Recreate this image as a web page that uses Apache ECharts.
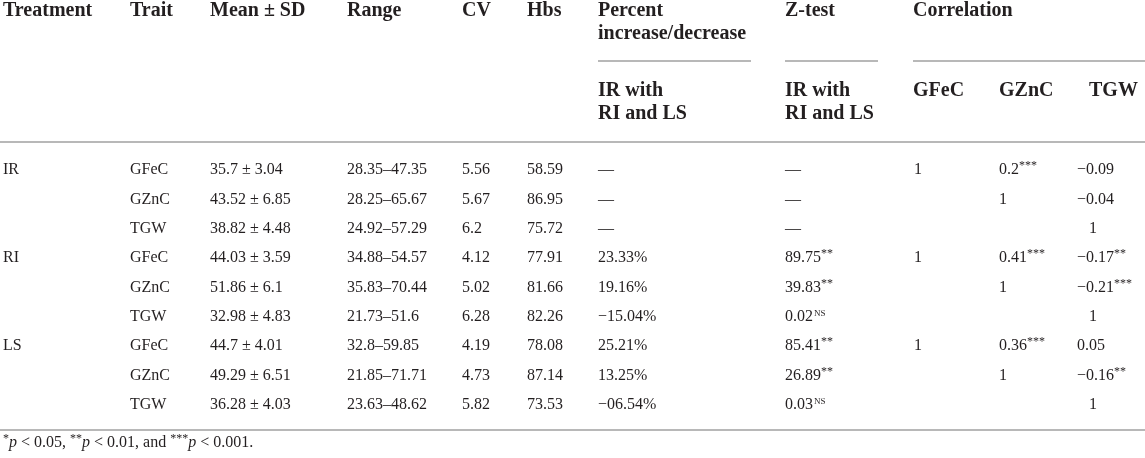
<!DOCTYPE html>
<html>
<head>
<meta charset="utf-8">
<script src="https://cdn.jsdelivr.net/npm/echarts@6/dist/echarts.min.js"></script>
<style>
html, body {margin: 0; padding: 0; background: #fff;}
#main {width: 1145px; height: 458px;}
</style>
</head>
<body>
<div id="main"></div>
<script>
/************************ table data ************************/
var treatments = ['IR', 'RI', 'LS'];
var traits = ['GFeC', 'GZnC', 'TGW'];
var meanSD = ['35.7 ± 3.04', '43.52 ± 6.85', '38.82 ± 4.48', '44.03 ± 3.59', '51.86 ± 6.1', '32.98 ± 4.83', '44.7 ± 4.01', '49.29 ± 6.51', '36.28 ± 4.03'];
var ranges = ['28.35–47.35', '28.25–65.67', '24.92–57.29', '34.88–54.57', '35.83–70.44', '21.73–51.6', '32.8–59.85', '21.85–71.71', '23.63–48.62'];
var cv = ['5.56', '5.67', '6.2', '4.12', '5.02', '6.28', '4.19', '4.73', '5.82'];
var hbs = ['58.59', '86.95', '75.72', '77.91', '81.66', '82.26', '78.08', '87.14', '73.53'];
var pctChange = ['—', '—', '—', '23.33%', '19.16%', '−15.04%', '25.21%', '13.25%', '−06.54%'];
var zValue = ['—', '—', '—', '89.75', '39.83', '0.02', '85.41', '26.89', '0.03'];
var zSig = ['', '', '', '**', '**', 'NS', '**', '**', 'NS'];
var corrFe = ['1', '', '', '1', '', '', '1', '', ''];
var corrZn = ['0.2', '1', '', '0.41', '1', '', '0.36', '1', ''];
var corrZnSig = ['***', '', '', '***', '', '', '***', '', ''];
var corrTgw = ['−0.09', '−0.04', '1', '−0.17', '−0.21', '1', '0.05', '−0.16', '1'];
var corrTgwSig = ['', '', '', '**', '***', '', '', '**', ''];

var headMain = ['Treatment', 'Trait', 'Mean ± SD', 'Range', 'CV', 'Hbs'];
var headSpan = ['Percent\nincrease/decrease', 'Z-test', 'Correlation'];
var headSub = ['IR with\nRI and LS', 'IR with\nRI and LS', 'GFeC', 'GZnC', 'TGW'];
var footnote = '{s|*}{i|p}{t| < 0.05, }{s|**}{i|p}{t| < 0.01, and }{s|***}{i|p}{t| < 0.001.}';

/************************ layout ************************/
var W = 1145, H = 458;
var FONT = '"Liberation Serif", "Times New Roman", serif';
var INK = '#231f20';
var RULE = '#b8b8b8';
var colMain = [3, 130, 210, 347, 462, 527];
var colSpan = [598, 785, 913];
var colSub = [598, 785, 913, 999, 1089];
var colData = [598, 785, 914, 999, 1077];
var row0 = 170, rowStep = 29.375;
var headLine = 23;

var rich = {
    v: {fontFamily: FONT, fontSize: 16, fill: INK, lineHeight: 20},
    s: {fontFamily: FONT, fontSize: 12, fill: INK, lineHeight: 20, verticalAlign: 'top'},
    n: {fontFamily: FONT, fontSize: 9, fill: INK, lineHeight: 20, verticalAlign: 'top', padding: [2, 0, 0, 1]}
};
var footRich = {
    t: {fontFamily: FONT, fontSize: 16, fill: INK, lineHeight: 20},
    i: {fontFamily: FONT, fontSize: 16, fontStyle: 'italic', fill: INK, lineHeight: 20},
    s: {fontFamily: FONT, fontSize: 12, fill: INK, lineHeight: 20, verticalAlign: 'top'}
};

function valText(v, sig) {
    if (!v) return '';
    var t = '{v|' + v + '}';
    if (sig === 'NS') t += '{n|NS}';
    else if (sig) t += '{s|' + sig + '}';
    return t;
}

// centre y of a header block whose first line sits at y0
function headY(y0, txt) {
    var lines = txt.split('\n').length;
    return y0 + (lines - 1) * headLine / 2;
}

// cells: [x, y, text, kind]
var cells = [];
headMain.forEach(function (h, i) { cells.push([colMain[i], headY(11, h), h, 'head']); });
headSpan.forEach(function (h, i) { cells.push([colSpan[i], headY(11, h), h, 'head']); });
headSub.forEach(function (h, i) { cells.push([colSub[i], headY(91, h), h, 'head']); });

for (var r = 0; r < 9; r++) {
    var y = row0 + rowStep * r;
    if (r % 3 === 0) cells.push([colMain[0], y, '{v|' + treatments[r / 3] + '}', 'rich']);
    cells.push([colMain[1], y, '{v|' + traits[r % 3] + '}', 'rich']);
    cells.push([colMain[2], y, '{v|' + meanSD[r] + '}', 'rich']);
    cells.push([colMain[3], y, '{v|' + ranges[r] + '}', 'rich']);
    cells.push([colMain[4], y, '{v|' + cv[r] + '}', 'rich']);
    cells.push([colMain[5], y, '{v|' + hbs[r] + '}', 'rich']);
    cells.push([colData[0], y, valText(pctChange[r], ''), 'rich']);
    cells.push([colData[1], y, valText(zValue[r], zSig[r]), 'rich']);
    if (corrFe[r]) cells.push([colData[2], y, valText(corrFe[r], ''), 'rich']);
    if (corrZn[r]) cells.push([colData[3], y, valText(corrZn[r], corrZnSig[r]), 'rich']);
    if (corrTgw[r]) cells.push([corrTgw[r] === '1' ? colSub[4] : colData[4], y, valText(corrTgw[r], corrTgwSig[r]), 'rich']);
}
cells.push([3, 443, footnote, 'foot']);

// rules: [x1, x2, y]
var rules = [[0, W, 142], [0, W, 430], [598, 751, 61], [785, 878, 61], [913, W, 61]];

/************************ chart ************************/
var chart = echarts.init(document.getElementById('main'), null, {renderer: 'canvas'});

function renderCell(params, api) {
    var c = cells[params.dataIndex];
    var p = api.coord([api.value(0), api.value(1)]);
    var style = {x: 0, y: 0, text: c[2], fill: INK, align: 'left', verticalAlign: 'middle'};
    if (c[3] === 'head') {
        style.fontFamily = FONT;
        style.fontSize = 20;
        style.fontWeight = 'bold';
        style.lineHeight = headLine;
    } else if (c[3] === 'foot') {
        style.rich = footRich;
    } else {
        style.rich = rich;
    }
    return {type: 'text', x: p[0], y: p[1], style: style};
}

function renderRule(params, api) {
    var a = api.coord([api.value(0), api.value(2)]);
    var b = api.coord([api.value(1), api.value(2)]);
    return {
        type: 'line',
        shape: {x1: a[0], y1: a[1], x2: b[0], y2: b[1]},
        style: {stroke: RULE, lineWidth: 2}
    };
}

chart.setOption({
    animation: false,
    backgroundColor: '#fff',
    grid: {left: 0, right: 0, top: 0, bottom: 0},
    xAxis: {type: 'value', min: 0, max: W, show: false},
    yAxis: {type: 'value', min: 0, max: H, inverse: true, show: false},
    series: [
        {type: 'custom', silent: true, renderItem: renderRule, data: rules},
        {type: 'custom', silent: true, renderItem: renderCell,
            data: cells.map(function (c) { return [c[0], c[1]]; })}
    ]
});
</script>
</body>
</html>
